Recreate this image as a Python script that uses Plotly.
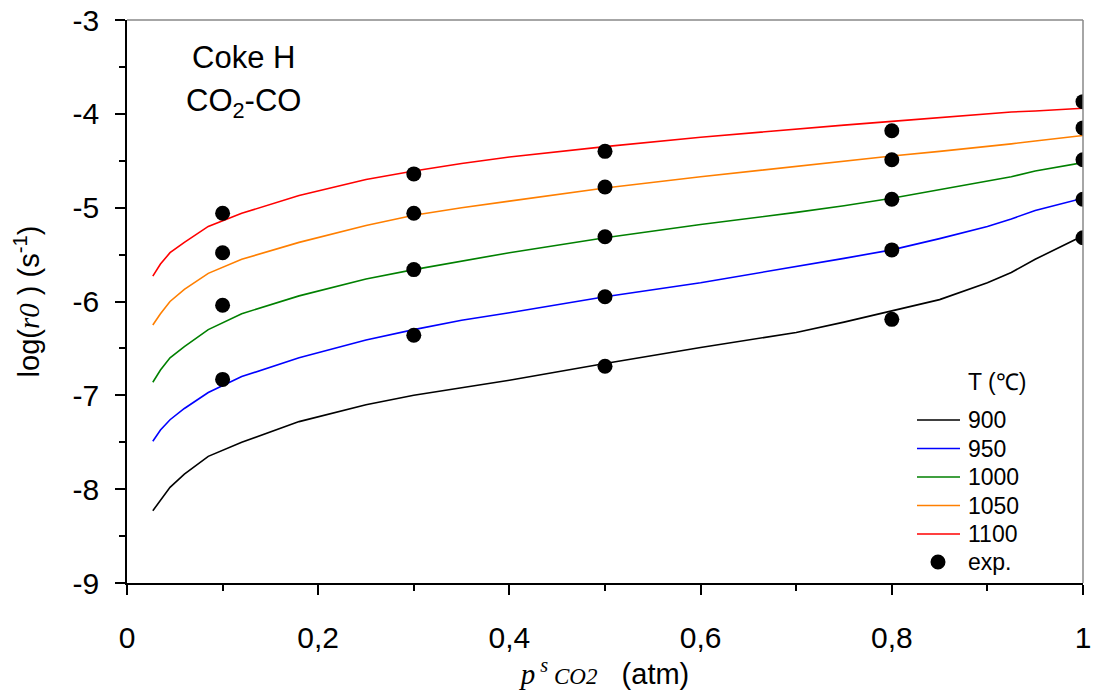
import plotly.graph_objects as go

# model curves (x = p_CO2^s in atm, y = log(r0))
x_model = [0.027, 0.035, 0.045, 0.06, 0.085, 0.12, 0.18, 0.25, 0.3, 0.35, 0.4, 0.5, 0.6, 0.7, 0.75, 0.8, 0.85, 0.9, 0.925, 0.95, 1.0]
y_900 = [-8.23, -8.12, -7.98, -7.84, -7.65, -7.5, -7.28, -7.1, -7.0, -6.92, -6.84, -6.66, -6.49, -6.33, -6.22, -6.1, -5.98, -5.8, -5.69, -5.55, -5.3]
y_950 = [-7.49, -7.37, -7.26, -7.14, -6.97, -6.8, -6.6, -6.41, -6.3, -6.2, -6.12, -5.95, -5.8, -5.63, -5.54, -5.45, -5.33, -5.2, -5.12, -5.03, -4.9]
y_1000 = [-6.86, -6.73, -6.6, -6.48, -6.3, -6.13, -5.94, -5.76, -5.66, -5.57, -5.48, -5.32, -5.18, -5.05, -4.98, -4.9, -4.81, -4.72, -4.67, -4.61, -4.52]
y_1050 = [-6.25, -6.13, -6.0, -5.87, -5.7, -5.55, -5.37, -5.19, -5.08, -5.0, -4.93, -4.79, -4.67, -4.56, -4.5, -4.45, -4.4, -4.35, -4.32, -4.29, -4.23]
y_1100 = [-5.73, -5.6, -5.48, -5.37, -5.2, -5.06, -4.87, -4.7, -4.61, -4.53, -4.46, -4.35, -4.25, -4.16, -4.12, -4.08, -4.04, -4.0, -3.98, -3.97, -3.94]

# experimental points
x_exp = [0.1, 0.1, 0.1, 0.1,
         0.3, 0.3, 0.3, 0.3,
         0.5, 0.5, 0.5, 0.5, 0.5,
         0.8, 0.8, 0.8, 0.8, 0.8,
         1.0, 1.0, 1.0, 1.0, 1.0]
y_exp = [-5.06, -5.48, -6.04, -6.83,
         -4.64, -5.06, -5.66, -6.36,
         -4.40, -4.78, -5.31, -5.95, -6.69,
         -4.18, -4.49, -4.91, -5.45, -6.19,
         -3.87, -4.15, -4.49, -4.91, -5.32]

series_names = ["900", "950", "1000", "1050", "1100"]
series_values = [y_900, y_950, y_1000, y_1050, y_1100]
series_colors = ["black", "blue", "green", "#ff7f00", "red"]

y_tickvals = [-9, -8, -7, -6, -5, -4, -3]
y_ticktext = ["-9", "-8", "-7", "-6", "-5", "-4", "-3"]
x_tickvals = [0, 0.2, 0.4, 0.6, 0.8, 1.0]
x_ticktext = ["0", "0,2", "0,4", "0,6", "0,8", "1"]

FONT = "Liberation Sans, Arial, sans-serif"

W, H = 1096, 695
ML, MR, MT, MB = 127, 13, 20, 112
PLOT_W, PLOT_H = W - ML - MR, H - MT - MB


def px(sx):  # window pixel x -> paper fraction
    return (sx - ML) / PLOT_W


def py(sy):  # window pixel y -> paper fraction
    return (H - MB - sy) / PLOT_H


fig = go.Figure()
for name, ys, col in zip(series_names, series_values, series_colors):
    fig.add_trace(go.Scatter(x=x_model, y=ys, mode="lines", name=name,
                             line=dict(color=col, width=1.6)))
fig.add_trace(go.Scatter(x=x_exp, y=y_exp, mode="markers", name="exp.",
                         marker=dict(color="black", size=15)))

fig.update_layout(
    width=W, height=H,
    margin=dict(l=ML, r=MR, t=MT, b=MB),
    plot_bgcolor="white", paper_bgcolor="white",
    font=dict(family=FONT, size=29, color="black"),
    separators=",.",
    showlegend=False,
)
fig.update_xaxes(
    range=[0, 1], tickvals=x_tickvals, ticktext=x_ticktext,
    showgrid=False, zeroline=False, showline=True, linecolor="black", linewidth=1.5,
    ticks="outside", ticklen=10, tickwidth=1.5, tickcolor="black",
    minor=dict(dtick=0.1, ticks="outside", ticklen=6, tickwidth=1.5, tickcolor="black"),
    ticklabelstandoff=17, automargin=False,
    tickfont=dict(size=30),
    title=dict(text="<span style='font-family:Liberation Serif'><i>p</i><sup> <i>s</i></sup>"
                    "<span style='font-size:23px'> <i>CO2</i></span></span>   (atm)",
               font=dict(size=29), standoff=6),
)
fig.update_yaxes(
    range=[-9, -3], tickvals=y_tickvals, ticktext=y_ticktext,
    showgrid=False, zeroline=False, showline=True, linecolor="black", linewidth=1.5,
    ticks="outside", ticklen=10, tickwidth=1.5, tickcolor="black",
    minor=dict(dtick=0.5, ticks="outside", ticklen=6, tickwidth=1.5, tickcolor="black"),
    ticklabelstandoff=10, automargin=False,
    tickfont=dict(size=30),
    title=dict(text="log(<span style='font-family:Liberation Serif'><i>r0</i></span> ) (s<sup>-1</sup>)",
               font=dict(size=29), standoff=24),
)
# top and right frame in gray
fig.add_shape(type="line", xref="x domain", yref="y domain", x0=0, x1=1, y0=1, y1=1,
              line=dict(color="#888888", width=1.5))
fig.add_shape(type="line", xref="x domain", yref="y domain", x0=1, x1=1, y0=0, y1=1,
              line=dict(color="#888888", width=1.5))

# labels in the upper-left corner
fig.add_annotation(text="Coke H", xref="paper", yref="paper", x=px(243), y=py(58),
                   xanchor="center", yanchor="middle", showarrow=False, font=dict(size=31))
fig.add_annotation(text="CO<sub>2</sub>-CO", xref="paper", yref="paper", x=px(243), y=py(103),
                   xanchor="center", yanchor="middle", showarrow=False, font=dict(size=31))

# legend (drawn as annotations + key shapes)
LEG_FONT = 23
fig.add_annotation(text="T (℃)", xref="paper", yref="paper", x=px(966), y=py(382),
                   xanchor="left", yanchor="middle", showarrow=False, font=dict(size=LEG_FONT))
leg_rows = [420, 448.5, 477, 505.5, 534, 562]
for row, name, col in zip(leg_rows, series_names, series_colors):
    fig.add_shape(type="line", xref="paper", yref="paper", x0=px(917), x1=px(960),
                  y0=py(row), y1=py(row), line=dict(color=col, width=1.6))
    fig.add_annotation(text=name, xref="paper", yref="paper", x=px(966), y=py(row),
                       xanchor="left", yanchor="middle", showarrow=False, font=dict(size=LEG_FONT))
fig.add_shape(type="circle", xref="paper", yref="paper", xsizemode="pixel", ysizemode="pixel",
              xanchor=px(938), yanchor=py(leg_rows[-1]), x0=-7.5, x1=7.5, y0=-7.5, y1=7.5,
              fillcolor="black", line=dict(color="black", width=0))
fig.add_annotation(text="exp.", xref="paper", yref="paper", x=px(966), y=py(leg_rows[-1]),
                   xanchor="left", yanchor="middle", showarrow=False, font=dict(size=LEG_FONT))

# remove the browser's default body margin so the figure fills the window exactly
fig.write_html("out.html",
               config={"displayModeBar": False},
               post_script="document.body.style.margin='0';document.body.style.overflow='hidden';")
